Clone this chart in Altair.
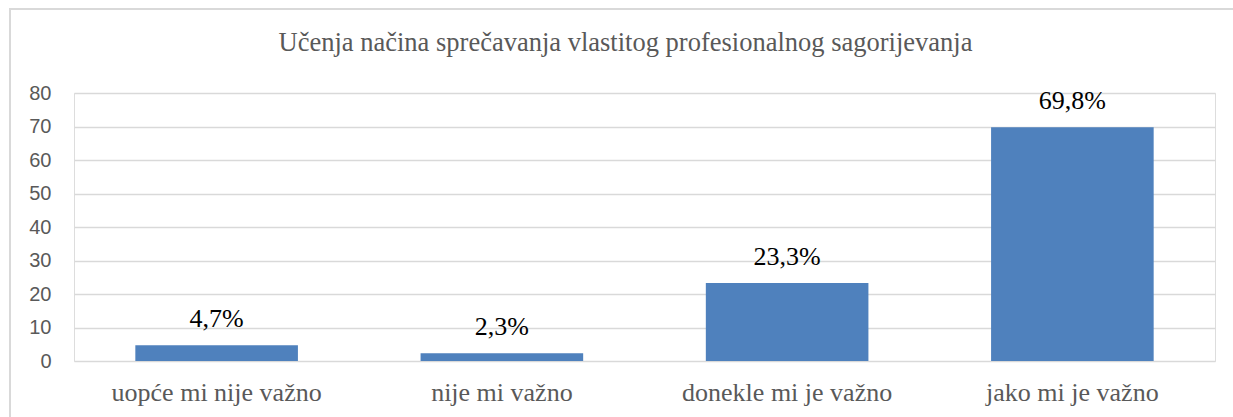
import altair as alt
import pandas as pd

categories = ["uopće mi nije važno", "nije mi važno", "donekle mi je važno", "jako mi je važno"]
values = [4.7, 2.3, 23.3, 69.8]
labels = ["4,7%", "2,3%", "23,3%", "69,8%"]
y_ticks = [0, 10, 20, 30, 40, 50, 60, 70, 80]

SERIF = "'Times New Roman', 'Liberation Serif', 'DejaVu Serif', serif"

df = pd.DataFrame({"cat": categories, "val": values, "lab": labels})

x_enc = alt.X(
    "cat:N",
    sort=categories,
    title=None,
    scale=alt.Scale(paddingInner=0.43, paddingOuter=0.215),
    axis=alt.Axis(
        labelAngle=0,
        labelFont=SERIF,
        labelFontSize=26,
        labelColor="#595959",
        labelBaseline="alphabetic",
        labelPadding=39,
        labelLimit=0,
        labelOverlap=False,
        ticks=False,
        tickSize=0,
        domain=False,
        grid=False,
    ),
)
y_enc = alt.Y(
    "val:Q",
    title=None,
    scale=alt.Scale(domain=[0, 80], nice=False),
    axis=alt.Axis(
        values=y_ticks,
        labelFont="Liberation Sans",
        labelFontSize=20,
        labelColor="#595959",
        labelPadding=23,
        labelOverlap=False,
        ticks=False,
        tickSize=0,
        domain=False,
        gridColor="#d9d9d9",
        gridWidth=1.5,
    ),
)

bars = alt.Chart(df).mark_bar(color="#4F81BD").encode(x=x_enc, y=y_enc)
text = alt.Chart(df).mark_text(
    font=SERIF, fontSize=26, color="#000000", baseline="alphabetic", dy=-18
).encode(x=x_enc, y=y_enc, text="lab:N")

border = alt.Chart(df).mark_rect(
    fill=None, stroke="#d9d9d9", strokeWidth=2, clip=False
).encode(
    x=alt.value(-64), x2=alt.value(1180), y=alt.value(-84), y2=alt.value(360)
)

chart = alt.layer(border, bars, text).properties(
    width=1141,
    height=268,
    padding={"left": 74, "top": 93, "right": 18, "bottom": 56},
    autosize=alt.AutoSizeParams(type="none"),
    title=alt.TitleParams(
        "Učenja načina sprečavanja vlastitog profesionalnog sagorijevanja",
        font=SERIF,
        fontSize=26.5,
        fontWeight="normal",
        color="#595959",
        anchor="middle",
        frame="group",
        baseline="alphabetic",
        offset=-69,
        dx=-19,
    ),
).configure_view(stroke=None).configure(background="white")

chart.save("out.html", embed_options={"renderer": "svg", "actions": False})
